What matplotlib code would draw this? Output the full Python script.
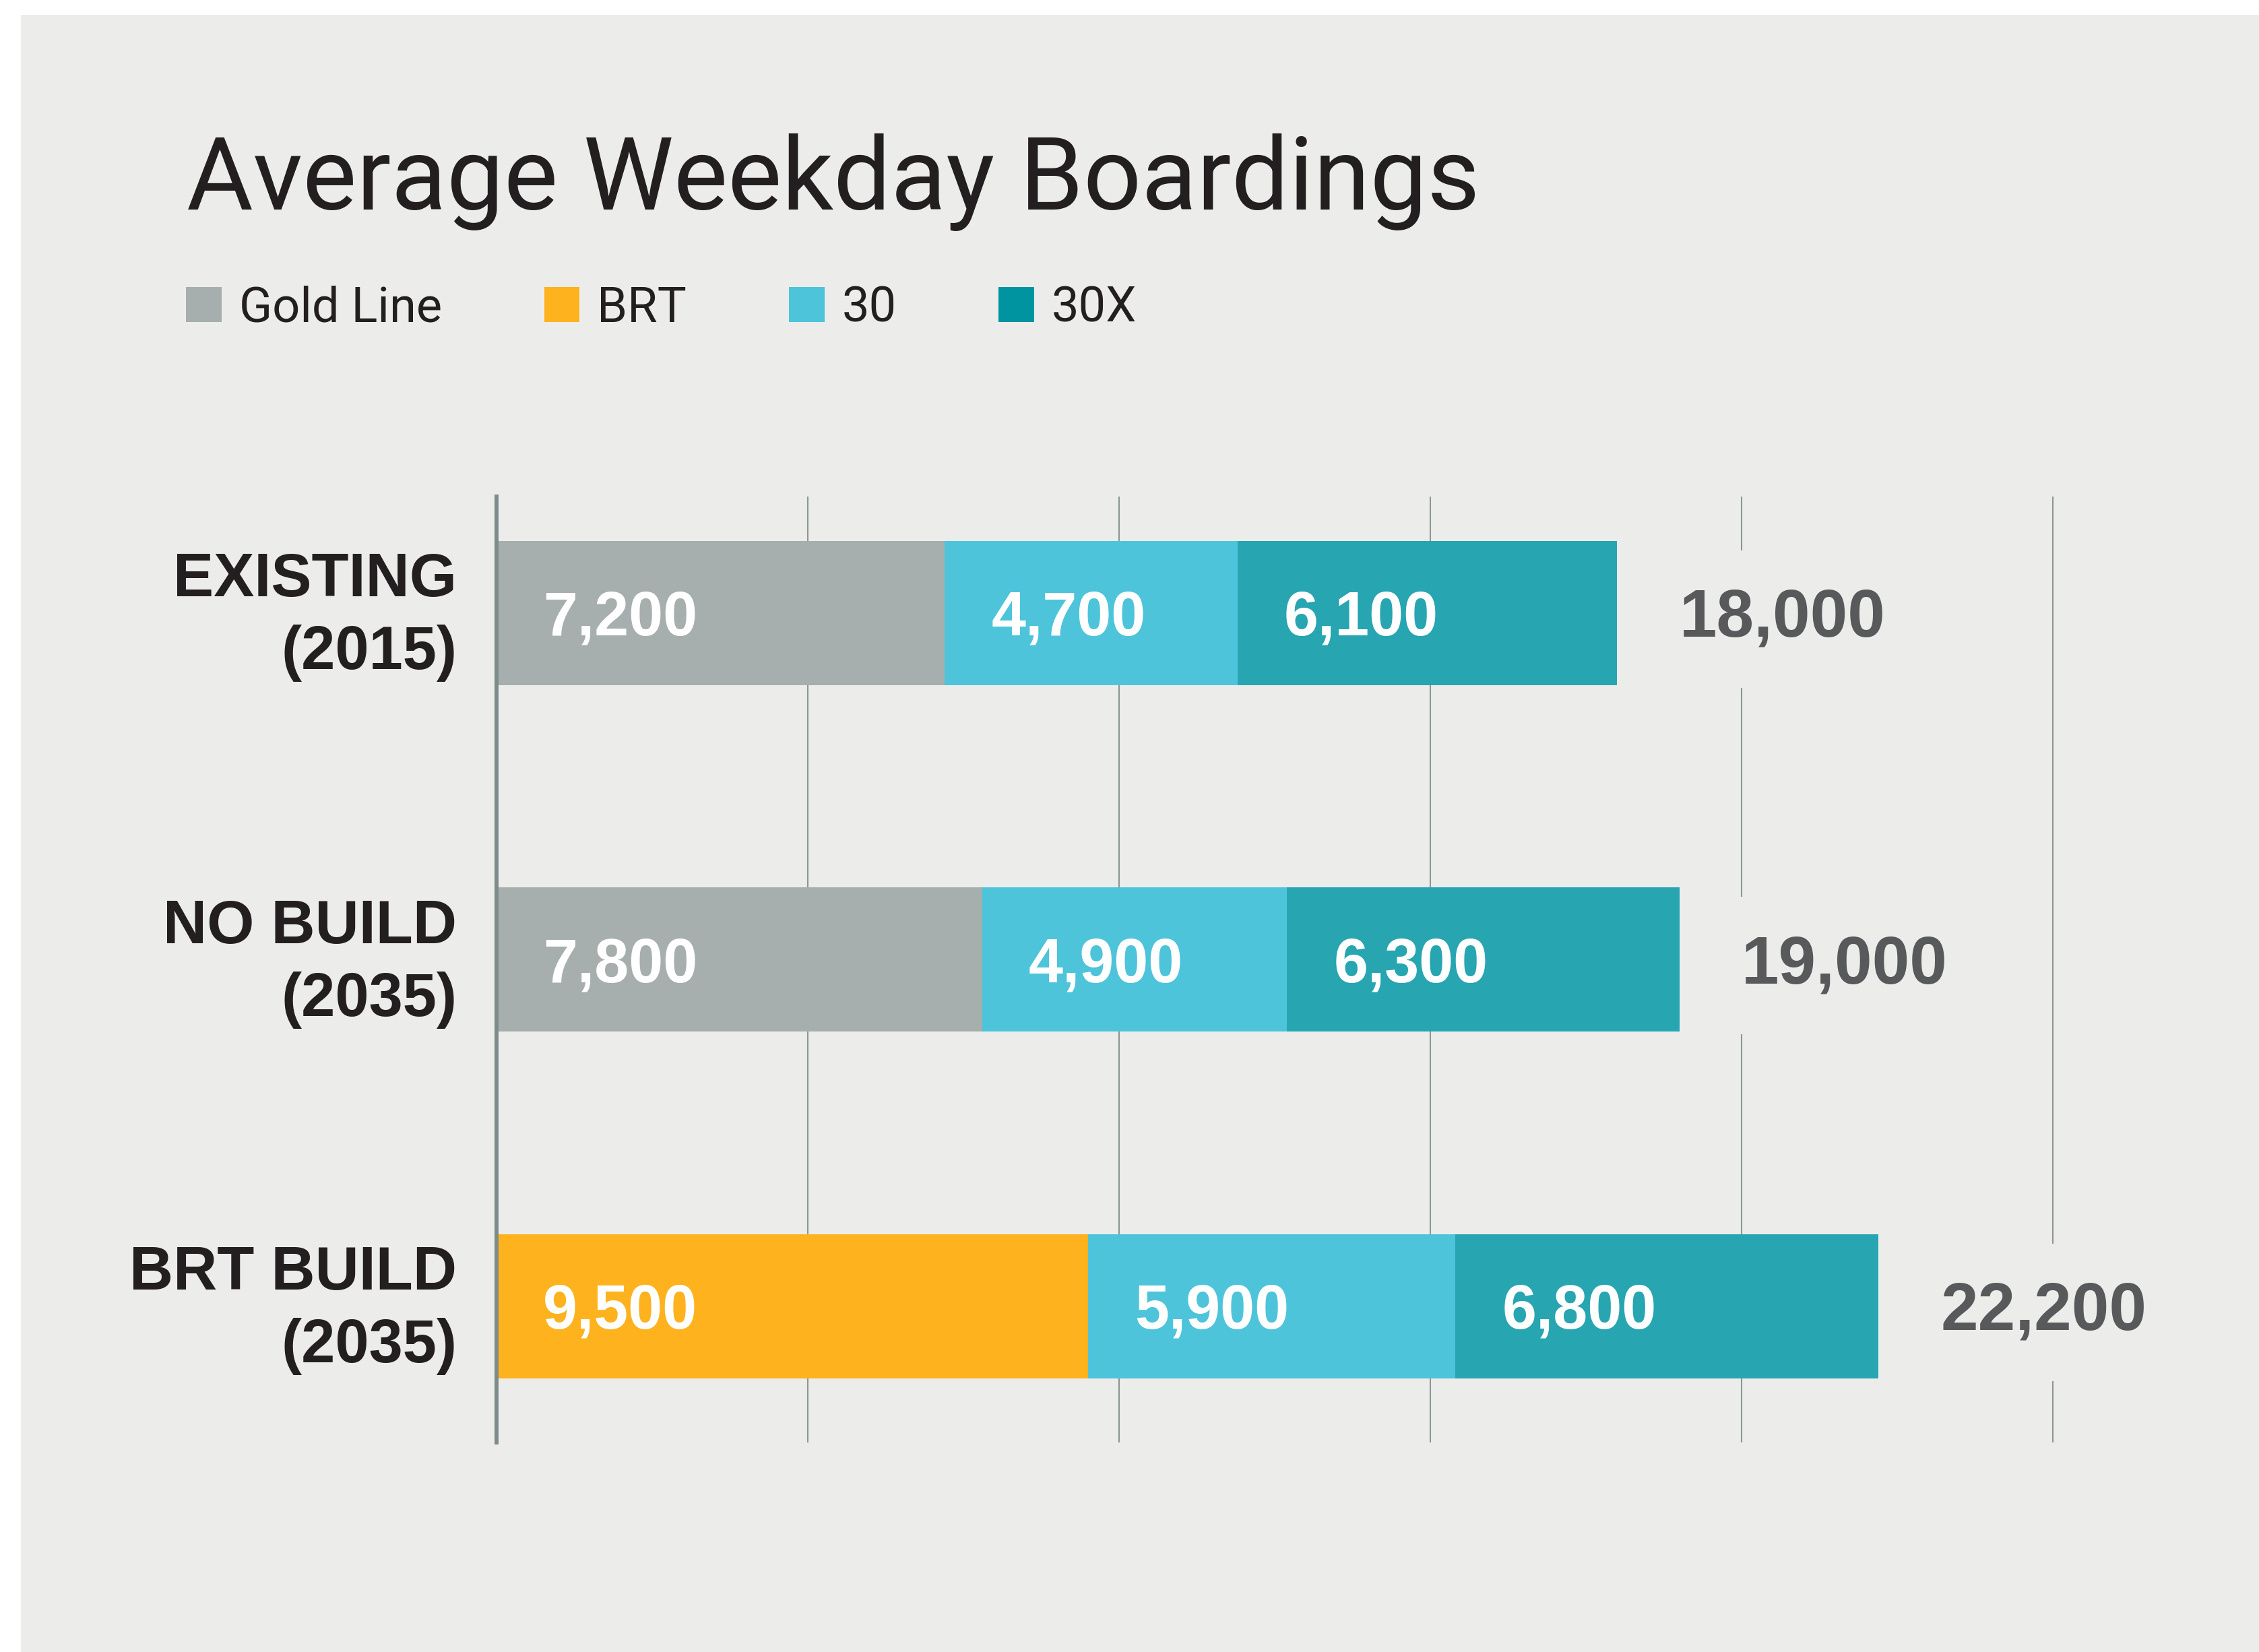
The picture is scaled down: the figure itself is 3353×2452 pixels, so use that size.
#!/usr/bin/env python

import numpy as np
import matplotlib
matplotlib.use('Agg')
import matplotlib.pyplot as plt
from matplotlib.patches import Rectangle, Patch

# data
categories = ['EXISTING\n(2015)', 'NO BUILD\n(2035)', 'BRT BUILD\n(2035)']
series_names = ['Gold Line', 'BRT', '30', '30X']
gold_line = [7200, 7800, 0]
brt = [0, 0, 9500]
route_30 = [4700, 4900, 5900]
route_30x = [6100, 6300, 6800]
grid_ticks = [0, 5000, 10000, 15000, 20000, 25000]

bar_colors = ['#A6AFAD', '#FDB21E', '#4DC4DA', '#27A5B1']
legend_colors = ['#A6AFAD', '#FDB21E', '#4DC4DA', '#0094A0']
bg = '#ECEDEB'
dark = '#231F20'

W, H = 3353, 2452
ROW_PX = 514.5  # pixels between bar centres


def fx(px):
    return px / W


def fy(px):
    return 1 - px / H


def main():
    fig = plt.figure(figsize=(W / 100, H / 100), dpi=100, facecolor='white')
    # grey panel, white strip on the left and top
    fig.patches.append(Rectangle((fx(31), 0), 1, fy(22), transform=fig.transFigure,
                                 facecolor=bg, edgecolor='none', zorder=-10))

    xmax = 25100
    ax_w = 462 / 5000 * xmax
    ax = fig.add_axes([fx(737), fy(2141), ax_w / W, (2141 - 737) / H])
    ax.set_facecolor('none')

    series = [gold_line, brt, route_30, route_30x]
    y = np.arange(len(categories))
    left = np.zeros(len(categories))
    for vals, name, col in zip(series, series_names, bar_colors):
        vals = np.array(vals)
        ax.barh(y, vals, left=left, height=0.416, color=col, label=name, zorder=2)
        for i in range(len(vals)):
            if vals[i] > 0:
                ax.text(left[i] + 750, y[i] + 33 / ROW_PX, '{:,}'.format(vals[i]), color='white',
                        fontsize=66, fontweight='bold', family='Liberation Sans',
                        ha='left', va='baseline', zorder=4)
        left = left + vals

    totals = left
    for i in range(len(totals)):
        ax.text(totals[i] + 1000, y[i] + 35 / ROW_PX, '{:,}'.format(int(totals[i])), color='#58595B',
                fontsize=72, fontweight='bold', family='Liberation Sans',
                ha='left', va='baseline', zorder=3, clip_on=False,
                bbox=dict(boxstyle='square,pad=0.55', facecolor=bg, edgecolor='none'))

    ax.set_xlim(0, xmax)
    ax.set_ylim(2.393, -0.336)
    ax.set_xticks(grid_ticks)
    ax.set_xticklabels([])
    ax.set_yticks(y)
    ax.set_yticklabels([])
    ax.grid(axis='x', color='#8C9696', linewidth=1.5, zorder=0)
    ax.grid(axis='y', visible=False)
    ax.set_axisbelow(True)
    ax.tick_params(axis='both', length=0)

    # category names, right aligned against the axis
    for i in range(len(categories)):
        ax.text(-59 / ax_w, y[i] + 6 / ROW_PX, categories[i],
                transform=ax.get_yaxis_transform(), fontsize=65, fontweight='bold',
                family='Liberation Sans', color=dark, linespacing=1.35,
                ha='right', va='center', multialignment='right')

    for s in ['top', 'right', 'bottom']:
        ax.spines[s].set_visible(False)
    ax.spines['left'].set_color('#7D8B8B')
    ax.spines['left'].set_linewidth(4.3)
    ax.spines['left'].set_zorder(5)

    fig.text(fx(277), fy(311), 'Average Weekday Boardings', ha='left', va='baseline',
             fontsize=109, color=dark, family=['Roboto', 'Liberation Sans'], fontweight='normal')

    handles = [Patch(facecolor=c, edgecolor='none') for c in legend_colors]
    leg = fig.legend(handles, series_names, loc='center left', bbox_to_anchor=(fx(276), fy(458)),
                     ncol=4, frameon=False, borderpad=0, borderaxespad=0,
                     handlelength=0.73, handleheight=0.73, handletextpad=0.36,
                     columnspacing=2.1,
                     prop={'family': ['Roboto', 'Liberation Sans'], 'weight': 'normal', 'size': 52})
    for t in leg.get_texts():
        t.set_color(dark)

    fig.savefig('out.png', dpi=100, facecolor=fig.get_facecolor())


if __name__ == '__main__':
    main()
